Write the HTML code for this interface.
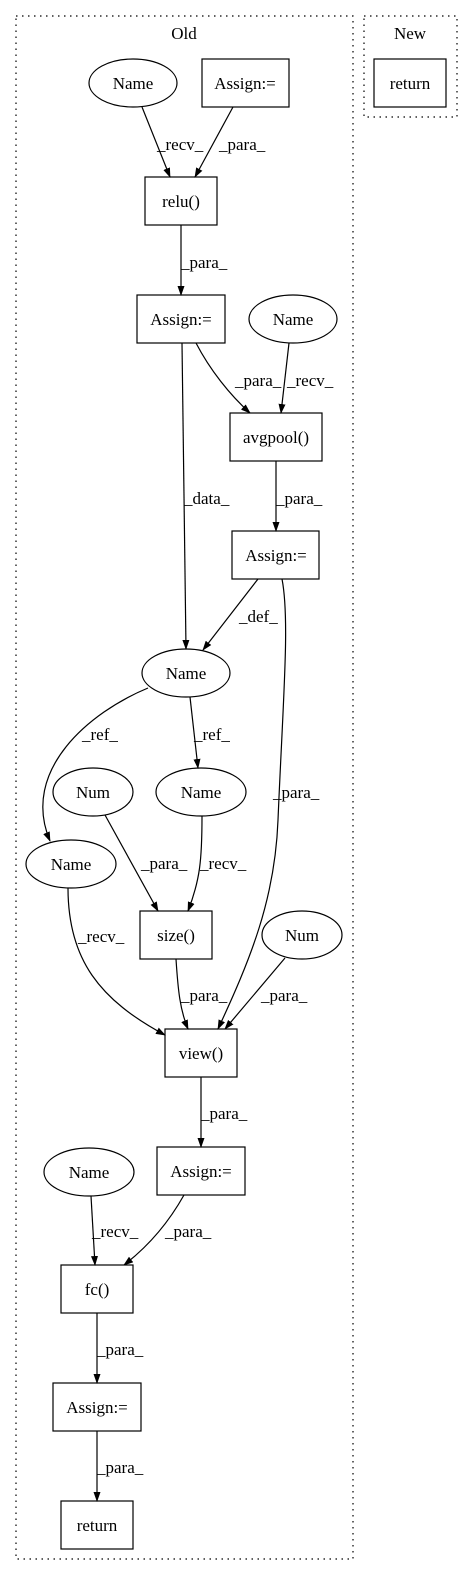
<!DOCTYPE html>
<html><head><style>body{margin:0;background:#fff}svg{display:block}text{font-family:"Liberation Serif",serif;font-size:17px;fill:#000}</style></head>
<body>
<svg width="473" height="1576" viewBox="0 0 473 1576" xmlns="http://www.w3.org/2000/svg">
<defs><marker id="a" markerWidth="10" markerHeight="10" refX="9" refY="5" orient="auto" markerUnits="userSpaceOnUse"><path d="M0,1.5 L10,5 L0,8.5 Z" fill="#000"/></marker></defs>
<g fill="none" stroke="#000" stroke-width="1.2">
<rect x="16" y="16" width="337" height="1543" stroke-dasharray="1.5,4.5"/>
<rect x="364" y="16" width="93" height="101" stroke-dasharray="1.5,4.5"/>
<ellipse cx="133" cy="83" rx="44" ry="24"/>
<rect x="202" y="59" width="87" height="48"/>
<rect x="145" y="177" width="72" height="48"/>
<rect x="137" y="295" width="88" height="48"/>
<ellipse cx="293" cy="319" rx="44" ry="24"/>
<rect x="230" y="413" width="92" height="48"/>
<rect x="232" y="531" width="87" height="48"/>
<ellipse cx="186" cy="673" rx="44" ry="24"/>
<ellipse cx="93" cy="792" rx="40" ry="24"/>
<ellipse cx="201" cy="792" rx="45" ry="24"/>
<ellipse cx="71" cy="864" rx="45" ry="24"/>
<rect x="140" y="911" width="72" height="48"/>
<ellipse cx="302" cy="935" rx="40" ry="24"/>
<rect x="165" y="1029" width="72" height="48"/>
<rect x="157" y="1147" width="88" height="48"/>
<ellipse cx="89" cy="1172" rx="45" ry="24"/>
<rect x="61" y="1265" width="72" height="48"/>
<rect x="53" y="1383" width="88" height="48"/>
<rect x="61" y="1501" width="72" height="48"/>
<rect x="374" y="59" width="72" height="48"/>
<g marker-end="url(#a)">
<path d="M142,107 L170,177"/>
<path d="M233,107 L195,177"/>
<path d="M181,225 L181,295"/>
<path d="M196,343 C210,370 230,395 250,413"/>
<path d="M289,343 L281,413"/>
<path d="M182,343 L186,649"/>
<path d="M276,461 L276,531"/>
<path d="M258,579 L203,650"/>
<path d="M148,688 C90,712 20,770 50,841"/>
<path d="M190,697 L198,768"/>
<path d="M105,815 L158,911"/>
<path d="M202,816 C202,860 200,880 188,911"/>
<path d="M282,579 C290,620 283,700 278,820 C275,900 250,960 218,1029"/>
<path d="M68,888 C68,960 100,1000 165,1035"/>
<path d="M176,959 C178,990 180,1010 188,1029"/>
<path d="M285,958 L225,1029"/>
<path d="M201,1077 L201,1147"/>
<path d="M91,1196 L95,1265"/>
<path d="M184,1195 C170,1220 150,1245 124,1265"/>
<path d="M97,1313 L97,1383"/>
<path d="M97,1431 L97,1501"/>
</g>
</g>
<g text-anchor="middle">
<text x="184" y="39">Old</text>
<text x="410" y="39">New</text>
<text x="133" y="89">Name</text>
<text x="245" y="89">Assign:=</text>
<text x="181" y="207">relu()</text>
<text x="181" y="325">Assign:=</text>
<text x="293" y="325">Name</text>
<text x="276" y="443">avgpool()</text>
<text x="276" y="561">Assign:=</text>
<text x="186" y="679">Name</text>
<text x="93" y="798">Num</text>
<text x="201" y="798">Name</text>
<text x="71" y="870">Name</text>
<text x="176" y="941">size()</text>
<text x="302" y="941">Num</text>
<text x="201" y="1059">view()</text>
<text x="201" y="1177">Assign:=</text>
<text x="89" y="1178">Name</text>
<text x="97" y="1295">fc()</text>
<text x="97" y="1413">Assign:=</text>
<text x="97" y="1531">return</text>
<text x="410" y="89">return</text>
</g>
<g>
<text x="157" y="150">_recv_</text>
<text x="219" y="150">_para_</text>
<text x="181" y="268">_para_</text>
<text x="235" y="386">_para_</text>
<text x="287" y="386">_recv_</text>
<text x="184" y="504">_data_</text>
<text x="276" y="504">_para_</text>
<text x="239" y="622">_def_</text>
<text x="82" y="740">_ref_</text>
<text x="194" y="740">_ref_</text>
<text x="273" y="798">_para_</text>
<text x="141" y="869">_para_</text>
<text x="200" y="869">_recv_</text>
<text x="78" y="942">_recv_</text>
<text x="181" y="1001">_para_</text>
<text x="261" y="1001">_para_</text>
<text x="201" y="1119">_para_</text>
<text x="92" y="1237">_recv_</text>
<text x="165" y="1237">_para_</text>
<text x="97" y="1355">_para_</text>
<text x="97" y="1473">_para_</text>
</g>
</svg>
</body></html>
